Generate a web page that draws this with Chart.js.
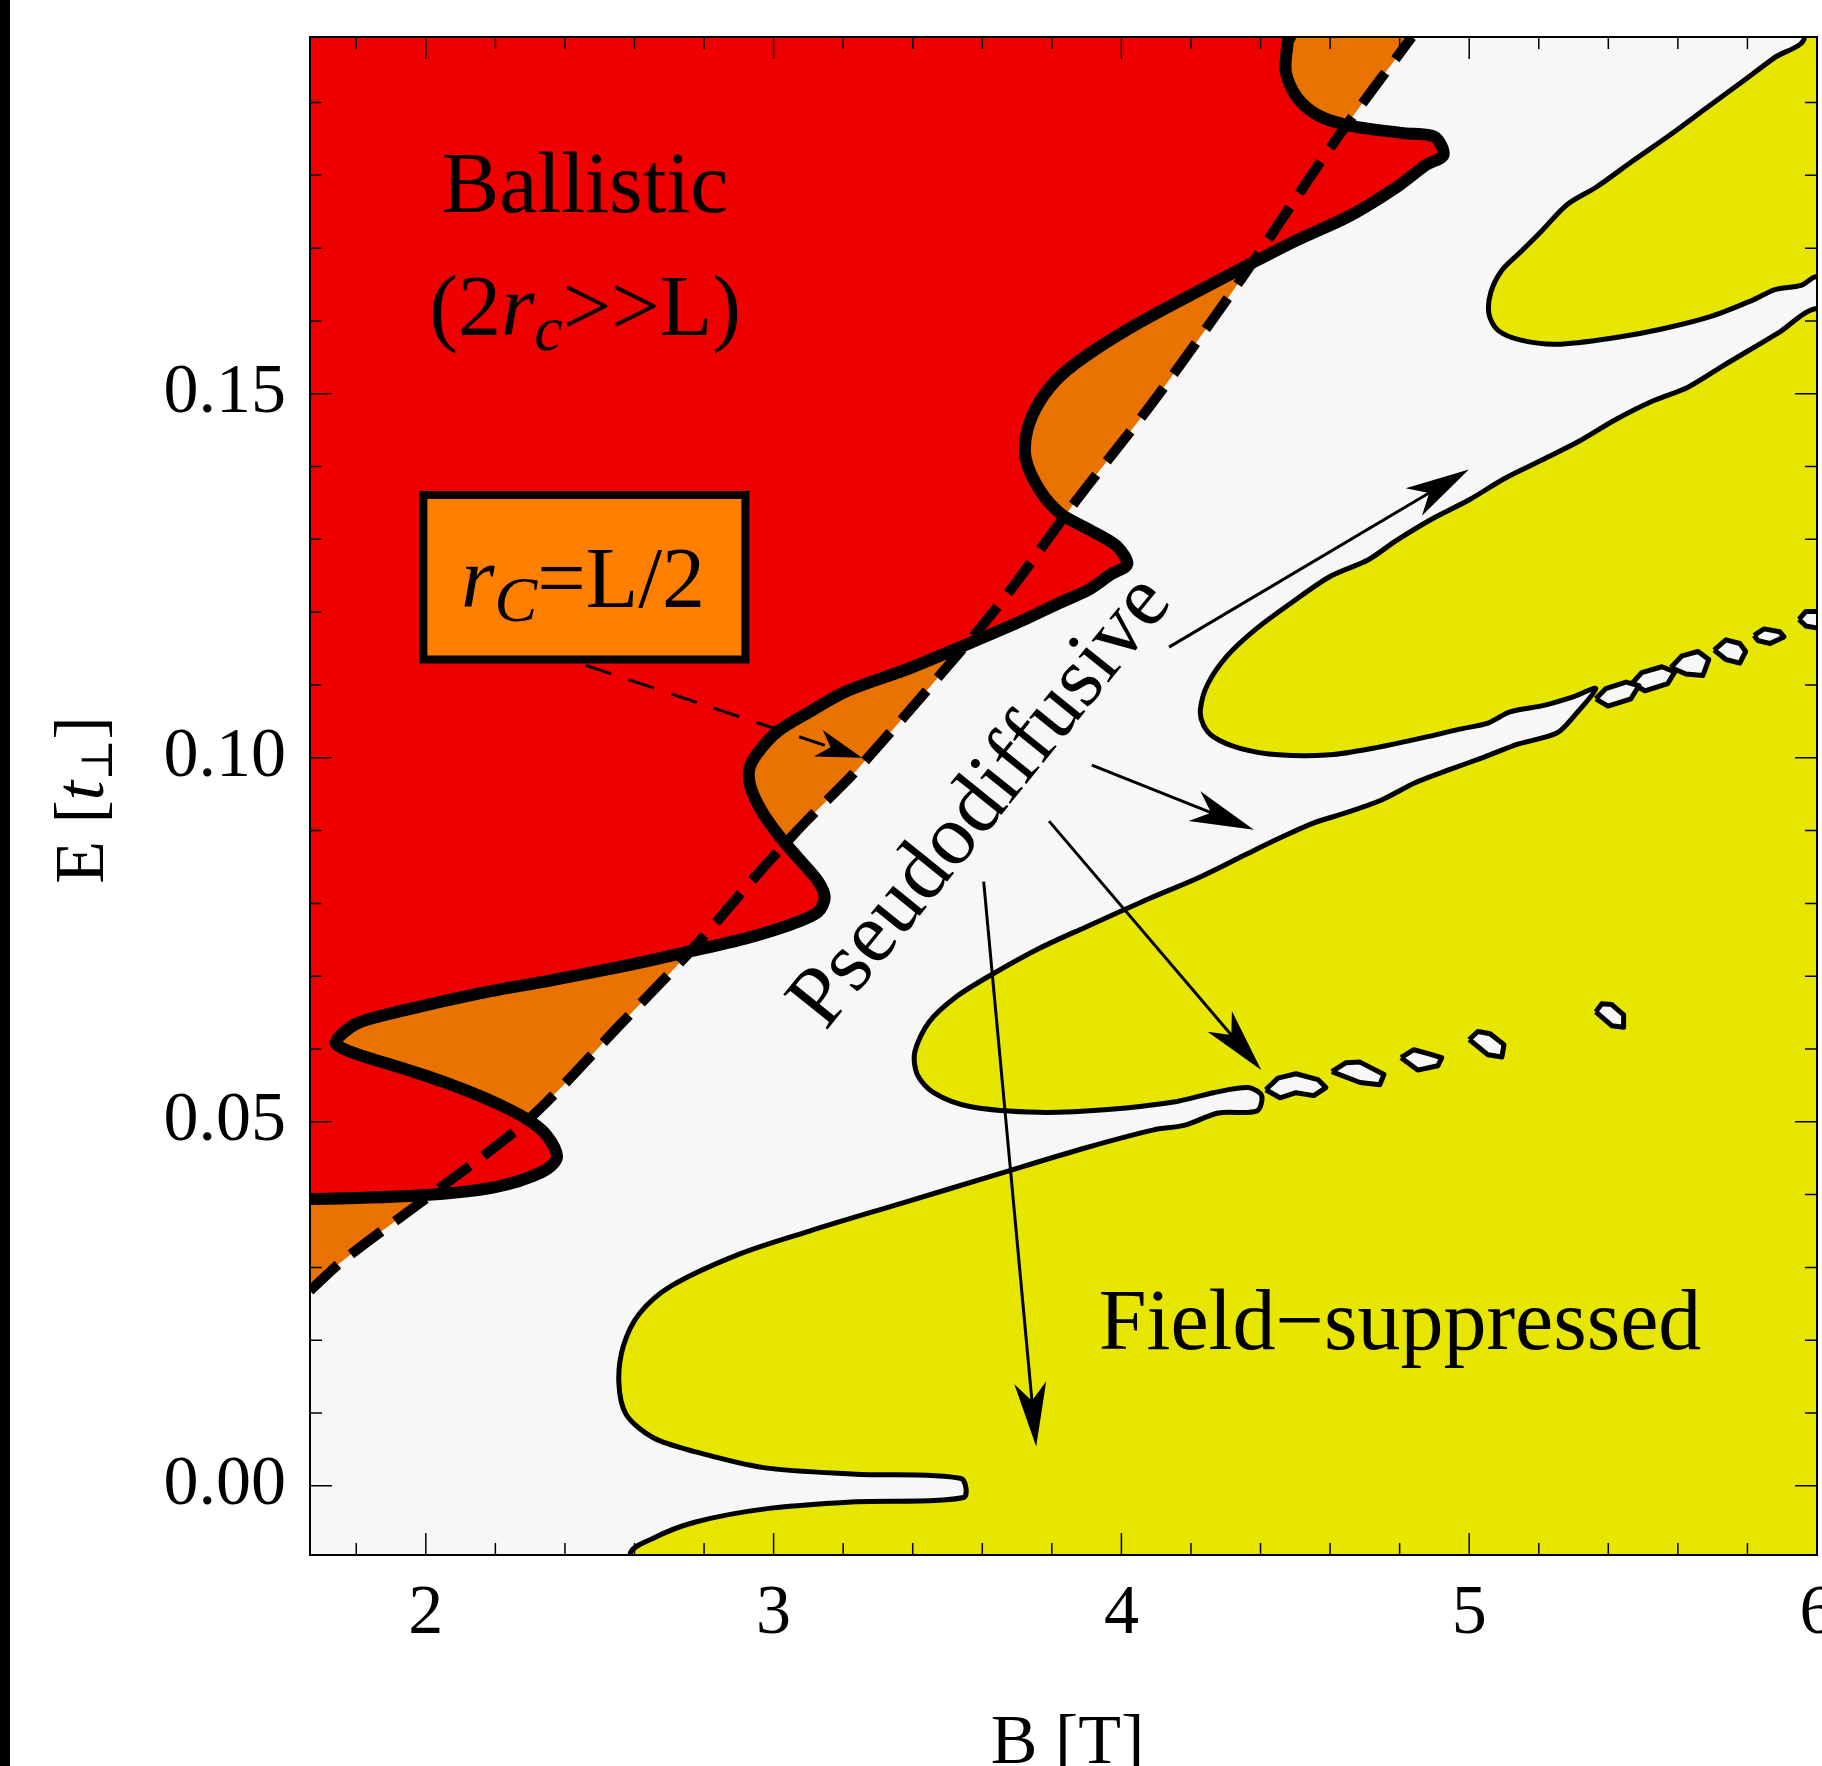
<!DOCTYPE html>
<html>
<head>
<meta charset="utf-8">
<title>Transport regimes in the B-E plane</title>
<script src="https://cdn.jsdelivr.net/npm/chart.js@4.4.1/dist/chart.umd.min.js"></script>
<style>
  html, body { margin: 0; padding: 0; background: #fff; overflow: hidden; }
  body::before { content: ""; position: fixed; left: 0; top: 0; width: 10px; height: 100%; background: #000; z-index: 2; }
  #wrap { position: absolute; left: 0; top: 0; width: 1900px; height: 1800px; }
</style>
</head>
<body>
<div id="wrap"><canvas id="regimes" width="1900" height="1800"></canvas></div>
<script>
//Axis ranges and tick labels

const bRange = [1.667, 6.0];
const eRange = [-0.0095, 0.199];
const xTickValues = [2, 3, 4, 5, 6];
const yTickValues = [0, 0.05, 0.10, 0.15];

//Ballistic boundary (thick solid curve)

const ballisticB = [1.667, 1.986, 2.196, 2.334, 2.377, 2.348, 2.293, 2.196, 2.055, 1.917, 1.790, 1.741,
  1.802, 1.946, 2.151, 2.357, 2.561, 2.768, 2.920, 3.055, 3.127, 3.147, 3.127, 3.075, 3.014, 2.963,
  2.932, 2.932, 2.963, 3.014, 3.096, 3.208, 3.380, 3.562, 3.708, 3.823, 3.907, 3.970, 4.017, 3.986,
  3.909, 3.826, 3.766, 3.725, 3.730, 3.766, 3.826, 3.920, 4.053, 4.197, 4.361, 4.505, 4.659, 4.792,
  4.875, 4.926, 4.900, 4.812, 4.659, 4.567, 4.505, 4.473, 4.479, 4.485];
const ballisticE = [0.0394, 0.0399, 0.0410, 0.0431, 0.0451, 0.0481, 0.0503, 0.0527, 0.0554, 0.0576, 0.0595, 0.0609,
  0.0635, 0.0654, 0.0676, 0.0694, 0.0713, 0.0735, 0.0752, 0.0772, 0.0788, 0.0808, 0.0831, 0.0860, 0.0894, 0.0929,
  0.0963, 0.0988, 0.1012, 0.1037, 0.1061, 0.1091, 0.1121, 0.1157, 0.1187, 0.1213, 0.1231, 0.1252, 0.1266, 0.1291,
  0.1313, 0.1335, 0.1367, 0.1411, 0.1451, 0.1490, 0.1525, 0.1559, 0.1598, 0.1635, 0.1676, 0.1711, 0.1745, 0.1784,
  0.1814, 0.1828, 0.1853, 0.1858, 0.1868, 0.1882, 0.1907, 0.1941, 0.1985, 0.1990];

//r_c = L/2 (dashed curve)

const rcHalfB = [1.667, 1.763, 2.029, 2.295, 2.562, 2.768, 2.972, 3.096, 3.239, 3.562, 3.682, 3.868, 4.093, 4.351, 4.608, 4.835];
const rcHalfE = [0.0268, 0.0310, 0.0405, 0.0503, 0.0635, 0.0738, 0.0850, 0.0914, 0.0983, 0.1160, 0.1231, 0.1352, 0.1490, 0.1662, 0.1843, 0.1990];

//Field-suppressed boundaries

// top right tongue
const topTongueB = [5.964, 5.879, 5.775, 5.681, 5.576, 5.471, 5.366, 5.282, 5.209, 5.146, 5.093, 5.062,
  5.057, 5.083, 5.146, 5.251, 5.418, 5.554, 5.700, 5.817, 5.879, 5.954, 6.0];
const topTongueE = [0.1990, 0.1962, 0.1925, 0.1892, 0.1855, 0.1820, 0.1784, 0.1760, 0.1724, 0.1694, 0.1669, 0.1639,
  0.1609, 0.1587, 0.1574, 0.1568, 0.1577, 0.1589, 0.1607, 0.1629, 0.1643, 0.1649, 0.1661];

// middle tongue: from the right frame to its tip and back to where the channel closes
const midTongueB = [6.0, 5.890, 5.732, 5.629, 5.523, 5.419, 5.313, 5.209, 5.103, 4.999, 4.893, 4.789,
  4.710, 4.600, 4.489, 4.390, 4.304, 4.248, 4.227, 4.236, 4.267, 4.341, 4.452, 4.600, 4.723, 4.871,
  4.969, 5.056, 5.117, 5.215, 5.301, 5.364];
const midTongueE = [0.1617, 0.1584, 0.1539, 0.1509, 0.1489, 0.1464, 0.1434, 0.1409, 0.1384, 0.1354, 0.1328, 0.1298,
  0.1272, 0.1249, 0.1213, 0.1178, 0.1140, 0.1101, 0.1066, 0.1045, 0.1028, 0.1013, 0.1004, 0.1004, 0.1013, 0.1028,
  0.1039, 0.1048, 0.1063, 0.1072, 0.1084, 0.1095];

// lower tongue
const lowTongueB = [5.301, 5.252, 5.142, 5.043, 4.945, 4.846, 4.748, 4.649, 4.550, 4.452, 4.353, 4.225,
  4.082, 3.895, 3.763, 3.630, 3.526, 3.447, 3.406, 3.413, 3.460, 3.564, 3.763, 3.961, 4.160, 4.265, 4.365, 4.403];
const lowTongueE = [0.1057, 0.1034, 0.1019, 0.1001, 0.0984, 0.0966, 0.0942, 0.0925, 0.0910, 0.0889, 0.0866, 0.0836,
  0.0807, 0.0767, 0.0738, 0.0703, 0.0672, 0.0637, 0.0596, 0.0565, 0.0540, 0.0521, 0.0513, 0.0517, 0.0528, 0.0540, 0.0547, 0.0536];

// bottom tongue with the spike at E = 0
const baseTongueB = [4.390, 4.279, 4.180, 4.093, 3.895, 3.631, 3.367, 3.103, 2.905, 2.707, 2.615, 2.568,
  2.555, 2.576, 2.654, 2.773, 2.971, 3.235, 3.539, 3.546, 3.235, 2.971, 2.773, 2.654, 2.587];
const baseTongueE = [0.0515, 0.0512, 0.0495, 0.0489, 0.0464, 0.0426, 0.0388, 0.0350, 0.0319, 0.0275, 0.0237, 0.0192,
  0.0142, 0.0098, 0.0066, 0.0047, 0.0025, 0.0016, 0.0010, -0.0016, -0.0022, -0.0032, -0.0050, -0.0072, -0.0095];

// small pseudodiffusive islands inside the field-suppressed region
const islandB = [
  [5.364, 5.393, 5.451, 5.488, 5.465, 5.399],
  [5.468, 5.496, 5.554, 5.591, 5.571, 5.505],
  [5.580, 5.612, 5.658, 5.689, 5.672, 5.623],
  [5.704, 5.738, 5.778, 5.795, 5.778, 5.738],
  [5.819, 5.848, 5.893, 5.905, 5.865, 5.830],
  [5.948, 5.968, 6.013, 6.037, 6.013, 5.968],
  [4.415, 4.450, 4.502, 4.565, 4.588, 4.553, 4.502, 4.456],
  [4.605, 4.645, 4.686, 4.755, 4.743, 4.686],
  [4.804, 4.841, 4.887, 4.921, 4.910, 4.852],
  [5.000, 5.025, 5.060, 5.100, 5.094, 5.054],
  [5.364, 5.381, 5.410, 5.444, 5.444, 5.410]
];
const islandE = [
  [0.1081, 0.1095, 0.1104, 0.1099, 0.1081, 0.1071],
  [0.1102, 0.1117, 0.1125, 0.1118, 0.1102, 0.1092],
  [0.1124, 0.1140, 0.1146, 0.1135, 0.1113, 0.1115],
  [0.1148, 0.1162, 0.1157, 0.1146, 0.1130, 0.1135],
  [0.1168, 0.1177, 0.1173, 0.1166, 0.1157, 0.1161],
  [0.1190, 0.1201, 0.1201, 0.1187, 0.1177, 0.1181],
  [0.0544, 0.0560, 0.0566, 0.0558, 0.0547, 0.0536, 0.0540, 0.0533],
  [0.0569, 0.0581, 0.0582, 0.0565, 0.0551, 0.0554],
  [0.0588, 0.0599, 0.0593, 0.0588, 0.0577, 0.0571],
  [0.0613, 0.0624, 0.0621, 0.0606, 0.0589, 0.0592],
  [0.0651, 0.0662, 0.0661, 0.0647, 0.0630, 0.0632]
];

//Annotations (data coordinates)

const arrowTails = [[4.137, 0.1152], [3.915, 0.0990], [3.792, 0.0913], [3.604, 0.0830]];
const arrowTips = [[4.999, 0.1396], [4.381, 0.0901], [4.402, 0.0571], [3.755, 0.0054]];
const legendArrow = [[2.460, 0.1127], [3.254, 0.1000]];
const legendBox = [[1.993, 0.1361], [2.919, 0.1135]];
const labelAt = {
  ballistic: [2.458, 0.1749],
  ballisticNote: [2.458, 0.1581],
  legend: [2.452, 0.1207],
  pseudo: [3.599, 0.0938],
  field: [4.801, 0.0188]
};

//Styles

const RED = '#EE0000';
const ORANGE = '#E87300';
const BOX_ORANGE = '#FF8000';
const YELLOW = '#E6E600';
const PLOT_BG = '#F7F7F7';
const SERIF = "'Liberation Serif', 'Times New Roman', serif";
const TEXT_FONT = `86px ${SERIF}`;
const TEXT_ITALIC = `italic 86px ${SERIF}`;
const SUB_ITALIC = `italic 64px ${SERIF}`;
const AXIS_FONT = `70px ${SERIF}`;
const AXIS_ITALIC = `italic 70px ${SERIF}`;
const AXIS_SUB = `44px 'DejaVu Serif', serif`;

//Shapes built from the arrays above

const X_OUT = 0.6, Y_OUT = 0.06; // polygon corners are parked outside the frame and clipped away
const points = (bs, es) => bs.map((b, i) => ({ x: b, y: es[i] }));
const last = arr => arr[arr.length - 1];

const rcPoints = points(rcHalfB, rcHalfE);

const ballisticShape = [
  { x: bRange[0] - X_OUT, y: ballisticE[0] },
  ...points(ballisticB, ballisticE),
  { x: last(ballisticB), y: eRange[1] + Y_OUT },
  { x: bRange[0] - X_OUT, y: eRange[1] + Y_OUT }
];

const topTongueShape = [
  { x: topTongueB[0], y: eRange[1] + Y_OUT },
  ...points(topTongueB, topTongueE),
  { x: bRange[1] + X_OUT, y: last(topTongueE) },
  { x: bRange[1] + X_OUT, y: eRange[1] + Y_OUT }
];

const fieldShape = [
  { x: bRange[1] + X_OUT, y: midTongueE[0] },
  ...points(midTongueB, midTongueE),
  ...points(lowTongueB, lowTongueE),
  ...points(baseTongueB, baseTongueE),
  { x: last(baseTongueB), y: eRange[0] - Y_OUT },
  { x: bRange[1] + X_OUT, y: eRange[0] - Y_OUT }
];

const islandSets = islandB.map((bs, i) => {
  const p = points(bs, islandE[i]);
  return {
    data: [...p, p[0]],
    fill: 'shape',
    backgroundColor: PLOT_BG,
    borderColor: '#000',
    borderWidth: 5,
    tension: 0,
    order: 4
  };
});

//Helpers for the decorations

function drawRuns(ctx, runs, cx, baseY) {
  let width = 0;
  runs.forEach(r => { ctx.font = r[1]; width += ctx.measureText(r[0]).width; });
  let xPos = cx - width / 2;
  runs.forEach(r => {
    ctx.font = r[1];
    ctx.fillText(r[0], xPos, baseY + (r[2] || 0));
    xPos += ctx.measureText(r[0]).width;
  });
}

function drawArrow(ctx, x1, y1, x2, y2, len, half) {
  const ang = Math.atan2(y2 - y1, x2 - x1);
  const c = Math.cos(ang), s = Math.sin(ang);
  ctx.beginPath();
  ctx.moveTo(x1, y1);
  ctx.lineTo(x2 - c * len * 0.7, y2 - s * len * 0.7);
  ctx.stroke();
  ctx.setLineDash([]);
  ctx.beginPath();
  ctx.moveTo(x2, y2);
  ctx.lineTo(x2 - c * len + s * half, y2 - s * len - c * half);
  ctx.lineTo(x2 - c * len * 0.72, y2 - s * len * 0.72);
  ctx.lineTo(x2 - c * len - s * half, y2 - s * len + c * half);
  ctx.closePath();
  ctx.fill();
}

const regimeDecor = {
  id: 'regimeDecor',
  beforeDraw(chart) {
    const { ctx, chartArea: a } = chart;
    ctx.save();
    ctx.fillStyle = PLOT_BG;
    ctx.fillRect(a.left, a.top, a.right - a.left, a.bottom - a.top);
    ctx.restore();
  },
  afterDatasetsDraw(chart) {
    const { ctx, chartArea: a, scales } = chart;
    const px = v => scales.x.getPixelForValue(v);
    const py = v => scales.y.getPixelForValue(v);
    ctx.save();

    // frame
    ctx.strokeStyle = '#000';
    ctx.lineWidth = 2;
    ctx.strokeRect(a.left, a.top, a.right - a.left, a.bottom - a.top);

    // inward ticks on all four sides
    ctx.lineWidth = 1.5;
    ctx.beginPath();
    for (let k = 9; k <= 30; k++) {
      const X = px(k / 5), len = k % 5 === 0 ? 22 : 12;
      ctx.moveTo(X, a.bottom); ctx.lineTo(X, a.bottom - len);
      ctx.moveTo(X, a.top); ctx.lineTo(X, a.top + len);
    }
    for (let k = 0; k <= 19; k++) {
      const Y = py(k / 100), len = k % 5 === 0 ? 22 : 12;
      ctx.moveTo(a.left, Y); ctx.lineTo(a.left + len, Y);
      ctx.moveTo(a.right, Y); ctx.lineTo(a.right - len, Y);
    }
    ctx.stroke();

    // legend box for r_c = L/2
    const bx = px(legendBox[0][0]), by = py(legendBox[0][1]);
    const bw = px(legendBox[1][0]) - bx, bh = py(legendBox[1][1]) - by;
    ctx.fillStyle = BOX_ORANGE;
    ctx.fillRect(bx, by, bw, bh);
    ctx.lineWidth = 8;
    ctx.strokeRect(bx, by, bw, bh);

    // region labels
    ctx.fillStyle = '#000';
    ctx.textAlign = 'left';
    ctx.textBaseline = 'alphabetic';
    drawRuns(ctx, [['Ballistic', TEXT_FONT]], px(labelAt.ballistic[0]), py(labelAt.ballistic[1]));
    drawRuns(ctx, [['(2', TEXT_FONT], ['r', TEXT_ITALIC], ['c', SUB_ITALIC, 15], ['>>L)', TEXT_FONT]],
      px(labelAt.ballisticNote[0]), py(labelAt.ballisticNote[1]));
    drawRuns(ctx, [['r', TEXT_ITALIC], ['C', SUB_ITALIC, 14], ['=L/2', TEXT_FONT]],
      px(labelAt.legend[0]), py(labelAt.legend[1]));
    drawRuns(ctx, [['Field\u2212suppressed', TEXT_FONT]], px(labelAt.field[0]), py(labelAt.field[1]));

    ctx.save();
    ctx.translate(px(labelAt.pseudo[0]), py(labelAt.pseudo[1]));
    ctx.rotate(-51 * Math.PI / 180);
    ctx.font = TEXT_FONT;
    ctx.textAlign = 'center';
    ctx.textBaseline = 'middle';
    ctx.fillText('Pseudodiffusive', 0, 0);
    ctx.restore();

    // arrows
    ctx.strokeStyle = '#000';
    ctx.lineWidth = 3;
    ctx.setLineDash([27, 18]);
    drawArrow(ctx, px(legendArrow[0][0]), py(legendArrow[0][1]), px(legendArrow[1][0]), py(legendArrow[1][1]), 46, 14);
    arrowTails.forEach((t, i) => {
      drawArrow(ctx, px(t[0]), py(t[1]), px(arrowTips[i][0]), py(arrowTips[i][1]), 64, 16);
    });

    // axis titles
    ctx.textAlign = 'left';
    ctx.textBaseline = 'alphabetic';
    drawRuns(ctx, [['B [T]', AXIS_FONT]], (a.left + a.right) / 2 + 4, a.bottom + 208);
    ctx.save();
    ctx.translate(a.left - 207, (a.top + a.bottom) / 2 + 4);
    ctx.rotate(-Math.PI / 2);
    drawRuns(ctx, [['E [', AXIS_FONT], ['t', AXIS_ITALIC], ['\u22A5', AXIS_SUB, 9], [']', AXIS_FONT]], 0, 0);
    ctx.restore();

    ctx.restore();
  }
};

//Chart

const regimeChart = new Chart(document.getElementById('regimes'), {
  type: 'line',
  data: {
    datasets: [
      { label: 'r_c < L/2 area', data: rcPoints, fill: 'end', backgroundColor: ORANGE,
        borderColor: 'rgba(0,0,0,0)', borderWidth: 0, order: 10 },
      { label: 'Ballistic', data: ballisticShape, fill: 'shape', backgroundColor: RED,
        borderColor: '#000', borderWidth: 12, order: 9 },
      { label: 'Field-suppressed (top)', data: topTongueShape, fill: 'shape', backgroundColor: YELLOW,
        borderColor: '#000', borderWidth: 5, order: 8 },
      { label: 'Field-suppressed', data: fieldShape, fill: 'shape', backgroundColor: YELLOW,
        borderColor: '#000', borderWidth: 5, order: 8 },
      ...islandSets,
      { label: 'r_c = L/2', data: rcPoints, fill: false, borderColor: '#000', borderWidth: 10,
        borderDash: [38, 17], borderCapStyle: 'butt', order: 2 }
    ]
  },
  options: {
    responsive: false,
    animation: false,
    devicePixelRatio: 1,
    events: [],
    layout: { padding: { left: 0, top: 37, right: 83, bottom: 0 } },
    elements: {
      point: { radius: 0, hitRadius: 0 },
      line: { tension: 0.3, borderJoinStyle: 'round' }
    },
    plugins: { legend: { display: false }, tooltip: { enabled: false } },
    scales: {
      x: {
        type: 'linear', min: bRange[0], max: bRange[1],
        grid: { display: false, drawTicks: false }, border: { display: false },
        afterBuildTicks: s => { s.ticks = xTickValues.map(v => ({ value: v })); },
        afterFit: s => { s.height = 245; s.paddingLeft = 0; s.paddingRight = 0; },
        ticks: { font: { family: SERIF, size: 70 }, color: '#000', padding: 18,
          maxRotation: 0, autoSkip: false, callback: v => String(v) }
      },
      y: {
        type: 'linear', min: eRange[0], max: eRange[1],
        grid: { display: false, drawTicks: false }, border: { display: false },
        afterBuildTicks: s => { s.ticks = yTickValues.map(v => ({ value: v })); },
        afterFit: s => { s.width = 310; s.paddingTop = 0; s.paddingBottom = 0; },
        ticks: { font: { family: SERIF, size: 70 }, color: '#000', padding: 24,
          autoSkip: false, callback: v => v.toFixed(2) }
      }
    }
  },
  plugins: [regimeDecor]
});
</script>
</body>
</html>
